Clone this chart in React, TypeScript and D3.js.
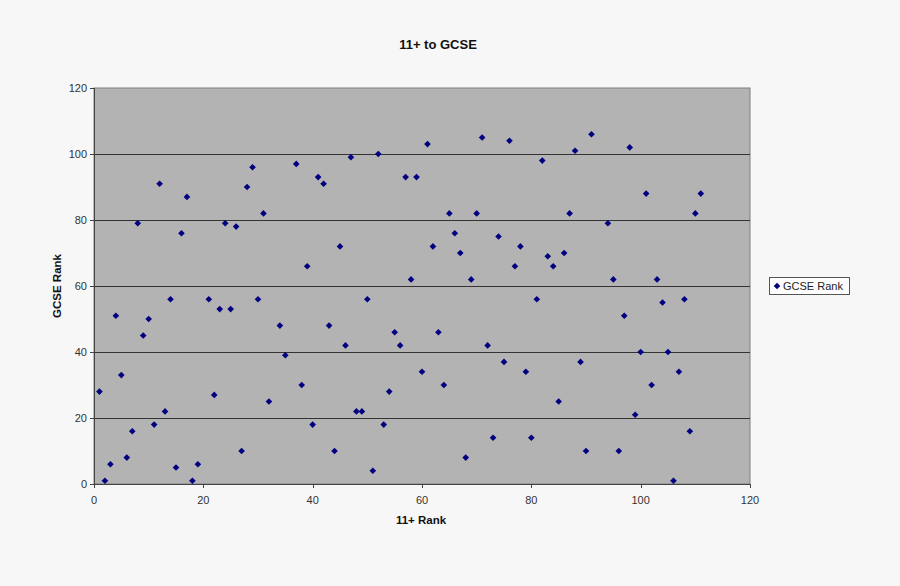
import React from "react";
import * as d3 from "d3";

const xValues = [1,2,3,4,5,6,7,8,9,10,11,12,13,14,15,16,17,18,19,21,22,23,24,25,26,27,28,29,30,31,32,34,35,37,38,39,40,41,42,43,44,45,46,47,48,49,50,51,52,53,54,55,56,57,58,59,60,61,62,63,64,65,66,67,68,69,70,71,72,73,74,75,76,77,78,79,80,81,82,83,84,85,86,87,88,89,90,91,94,95,96,97,98,99,100,101,102,103,104,105,106,107,108,109,110,111];
const gcseRank = [28,1,6,51,33,8,16,79,45,50,18,91,22,56,5,76,87,1,6,56,27,53,79,53,78,10,90,96,56,82,25,48,39,97,30,66,18,93,91,48,10,72,42,99,22,22,56,4,100,18,28,46,42,93,62,93,34,103,72,46,30,82,76,70,8,62,82,105,42,14,75,37,104,66,72,34,14,56,98,69,66,25,70,82,101,37,10,106,79,62,10,51,102,21,40,88,30,62,55,40,1,34,56,16,82,88];
const xTicks = [0,20,40,60,80,100,120];
const yTicks = [0,20,40,60,80,100,120];
const title = "11+ to GCSE";
const xTitle = "11+ Rank";
const yTitle = "GCSE Rank";
const seriesName = "GCSE Rank";

export default function App() {
  const W = 900, H = 586;
  const left = 94, right = 750, top = 88, bottom = 484;
  const x = d3.scaleLinear().domain([0, 120]).range([left, right]);
  const y = d3.scaleLinear().domain([0, 120]).range([bottom, top]);
  const diamond = d3.symbol().type(d3.symbolSquare).size(22)()!;
  const font = "'Liberation Sans', Arial, sans-serif";
  const pts = xValues.map((v, i) => [v, gcseRank[i]]);
  return (
    <svg width={W} height={H} style={{ position: "absolute", left: 0, top: 0 }} fontFamily={font}>
      <rect x={0} y={0} width={W} height={H} fill="#f7f7f7" />
      <text x={438} y={49} textAnchor="middle" fontSize={13} fontWeight="bold" fill="#111">{title}</text>
      <rect x={left} y={top} width={right - left} height={bottom - top} fill="#b3b3b3" stroke="#7f7f7f" strokeWidth={1} />
      {yTicks.filter(t => t > 0 && t < 120).map(t => (
        <line key={"g" + t} x1={left} x2={right} y1={Math.round(y(t)) + 0.5} y2={Math.round(y(t)) + 0.5} stroke="#333" strokeWidth={1} />
      ))}
      <line x1={left + 0.5} x2={left + 0.5} y1={top} y2={bottom} stroke="#444" />
      <line x1={left} x2={right} y1={bottom + 0.5} y2={bottom + 0.5} stroke="#444" />
      {yTicks.map(t => (
        <g key={"y" + t}>
          <line x1={left - 4} x2={left} y1={Math.round(y(t)) + 0.5} y2={Math.round(y(t)) + 0.5} stroke="#444" />
          <text x={left - 7} y={y(t) + 4} textAnchor="end" fontSize={11} fill="#333">{t}</text>
        </g>
      ))}
      {xTicks.map(t => (
        <g key={"x" + t}>
          <line x1={Math.round(x(t)) + 0.5} x2={Math.round(x(t)) + 0.5} y1={bottom} y2={bottom + 4} stroke="#444" />
          <text x={x(t)} y={bottom + 20} textAnchor="middle" fontSize={11} fill="#333">{t}</text>
        </g>
      ))}
      {pts.map(([a, b], i) => (
        <path key={i} d={diamond} transform={`translate(${x(a)},${y(b)}) rotate(45)`} fill="#000080" />
      ))}
      <text x={421} y={524} textAnchor="middle" fontSize={11.5} fontWeight="bold" fill="#111">{xTitle}</text>
      <text transform={`translate(61,${(top + bottom) / 2}) rotate(-90)`} textAnchor="middle" fontSize={11.5} fontWeight="bold" fill="#111">{yTitle}</text>
      <rect x={769.5} y={277.5} width={80} height={17} fill="#fff" stroke="#555" />
      <path d={diamond} transform="translate(777,286) rotate(45)" fill="#000080" />
      <text x={783} y={290} fontSize={11} fill="#222">{seriesName}</text>
    </svg>
  );
}
